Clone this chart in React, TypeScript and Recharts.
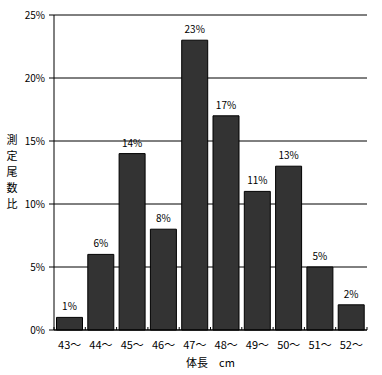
import React from 'react';
import {
  BarChart,
  Bar,
  XAxis,
  YAxis,
  CartesianGrid,
  LabelList
} from 'recharts';

const categories = ['43〜', '44〜', '45〜', '46〜', '47〜', '48〜', '49〜', '50〜', '51〜', '52〜'];
const ratios = [1, 6, 14, 8, 23, 17, 11, 13, 5, 2];
const yTicks = [0, 5, 10, 15, 20, 25];
const yLabelChars = ['測', '定', '尾', '数', '比'];

const FONT = '"Noto Sans CJK JP", "Noto Sans", sans-serif';
const TICK_MARGIN = 10;

const data = categories.map((name, i) => ({ name, ratio: ratios[i] }));

function CategoryTick(props: any) {
  const { x, y, payload, index, visibleTicksCount } = props;
  const half = payload.offset ?? 0;
  const axisY = y - TICK_MARGIN;
  const last = index === visibleTicksCount - 1;
  return (
    <g>
      <line x1={x - half} x2={x - half} y1={axisY} y2={axisY - 3} stroke="#000" />
      {last && <line x1={x + half} x2={x + half} y1={axisY} y2={axisY - 3} stroke="#000" />}
      <text x={x} y={axisY + 19} textAnchor="middle" fontSize={11} fill="#000" fontFamily={FONT}>
        {payload.value}
      </text>
    </g>
  );
}

// stacked one character per line, like the original vertical axis title
function VerticalLabel(props: any) {
  const { viewBox } = props;
  const cx = viewBox.x + 12;
  const cy = viewBox.y + viewBox.height / 2;
  const step = 16;
  const start = cy - ((yLabelChars.length - 1) * step) / 2;
  return (
    <g>
      {yLabelChars.map((c, i) => (
        <text key={i} x={cx} y={start + i * step} dy="0.36em" fontSize={11} fill="#000" fontFamily={FONT} textAnchor="middle">
          {c}
        </text>
      ))}
    </g>
  );
}

export default function App() {
  return (
    <div style={{ position: 'absolute', left: 0, top: 0, width: 382, height: 375, background: '#fff' }}>
      <BarChart
        width={382}
        height={375}
        data={data}
        margin={{ top: 15, right: 15, bottom: 5, left: 0 }}
        barCategoryGap="8%"
      >
        <CartesianGrid vertical={false} stroke="#000" />
        <XAxis
          dataKey="name"
          height={40}
          axisLine={{ stroke: '#000' }}
          tickLine={false}
          tickSize={0}
          tickMargin={TICK_MARGIN}
          interval={0}
          tick={<CategoryTick />}
          label={{ value: '体長　cm', position: 'insideBottom', offset: 3, fontSize: 11, fill: '#000', fontFamily: FONT }}
        />
        <XAxis
          xAxisId="top"
          dataKey="name"
          orientation="top"
          height={0}
          tick={false}
          tickLine={false}
          axisLine={{ stroke: '#808080' }}
        />
        <YAxis
          width={54}
          domain={[0, 25]}
          ticks={yTicks}
          tickFormatter={(v) => `${v}%`}
          tick={{ fontSize: 10, fill: '#000', fontFamily: FONT }}
          tickSize={5}
          tickMargin={4}
          axisLine={{ stroke: '#000' }}
          tickLine={{ stroke: '#000' }}
          label={<VerticalLabel />}
        />
        <YAxis
          yAxisId="r"
          orientation="right"
          width={0}
          domain={[0, 25]}
          tick={false}
          tickLine={false}
          axisLine={{ stroke: '#808080' }}
        />
        <Bar dataKey="ratio" fill="#333333" stroke="#000" isAnimationActive={false}>
          <LabelList
            dataKey="ratio"
            position="top"
            offset={7}
            formatter={(v: any) => `${v}%`}
            style={{ fontSize: 10, fill: '#000', fontFamily: FONT }}
          />
        </Bar>
      </BarChart>
    </div>
  );
}
